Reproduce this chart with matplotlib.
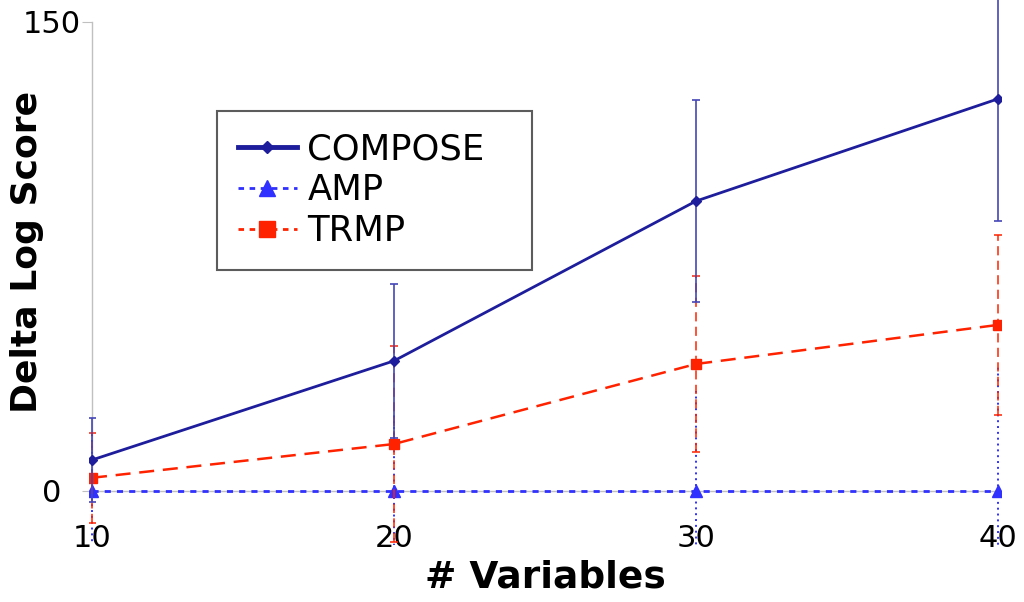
import matplotlib
matplotlib.use("Agg")
import matplotlib.pyplot as plt
from matplotlib.lines import Line2D

n_vars = [10, 20, 30, 40]

compose = [9.9, 41.6, 92.7, 125.4]
compose_err = [13.4, 24.6, 32.3, 39.0]

amp = [0, 0, 0, 0]
amp_err = [18, 25, 32, 40]

trmp = [4.2, 15.0, 40.6, 53.1]
trmp_err = [14.4, 31.4, 28.2, 28.8]

navy = "#1e1e9c"
blue = "#3030ff"
red = "#ff2200"

fig = plt.figure(figsize=(10.24, 6.02), dpi=100)
ax = fig.add_axes([89 / 1024, 57 / 602, 912 / 1024, 546.5 / 602])

# AMP
eb = ax.errorbar(n_vars, amp, yerr=amp_err, color=blue, lw=2, ls=(0, (2.2, 2.2)),
                 marker="^", ms=8, elinewidth=1.4, capsize=0, zorder=3)
eb[2][0].set_linestyle((0, (1, 2)))

# TRMP
eb = ax.errorbar(n_vars, trmp, yerr=trmp_err, color=red, lw=1.8, ls=(0, (6, 3.5)),
                 marker="s", ms=7, elinewidth=1.1, capsize=3, capthick=1.1, zorder=4)
eb[2][0].set_linestyle((0, (6, 3.5)))

# COMPOSE
eb = ax.errorbar(n_vars, compose, yerr=compose_err, color=navy, lw=2, ls="-",
                 marker="D", ms=5, elinewidth=1.2, ecolor="#4646b8", capsize=3,
                 capthick=1.2, zorder=5)

ax.set_xlim(9.9, 40.1)
ax.set_ylim(-17.3, 157.5)

for s in ["top", "right"]:
    ax.spines[s].set_visible(False)
ax.spines["left"].set_position(("data", 10))
ax.spines["left"].set_bounds(0, 150)
ax.spines["bottom"].set_position(("data", 0))
ax.spines["bottom"].set_bounds(10, 40)
for s in ["left", "bottom"]:
    ax.spines[s].set_color("#c0c0c0")
    ax.spines[s].set_linewidth(1)
    ax.spines[s].set_zorder(1)

ax.set_xticks(n_vars)
ax.set_yticks([0, 150])
ax.tick_params(axis="x", direction="out", length=4, color="#c0c0c0", pad=20, labelsize=22)
ax.tick_params(axis="y", direction="out", length=7, color="#c0c0c0", pad=22, labelsize=22)
for lab in ax.get_yticklabels():
    lab.set_horizontalalignment("center")

fig.text(545 / 1024, 1 - 577 / 602, "# Variables", ha="center", va="center",
         fontsize=27, fontweight="bold")
fig.text(27 / 1024, 1 - 252 / 602, "Delta Log Score", ha="center", va="center",
         rotation=90, fontsize=26, fontweight="bold")

handles = [
    Line2D([], [], color=navy, lw=3.5, marker="D", ms=6),
    Line2D([], [], color=blue, lw=2, ls=(0, (2, 2)), marker="^", ms=11),
    Line2D([], [], color=red, lw=2, ls=(0, (2, 2)), marker="s", ms=11),
]
leg = fig.legend(handles, ["COMPOSE", "AMP", "TRMP"],
                 loc="upper left", mode="expand",
                 bbox_to_anchor=(217 / 1024, 0.5, 315 / 1024, 1 - 111 / 602 - 0.5),
                 borderaxespad=0, fontsize=25.5, frameon=True, fancybox=False,
                 borderpad=0.6, labelspacing=0.2, handlelength=1.65, handletextpad=0.3)
leg.get_frame().set_edgecolor("#333333")
leg.get_frame().set_linewidth(1.5)

fig.savefig("out.png", dpi=100)
